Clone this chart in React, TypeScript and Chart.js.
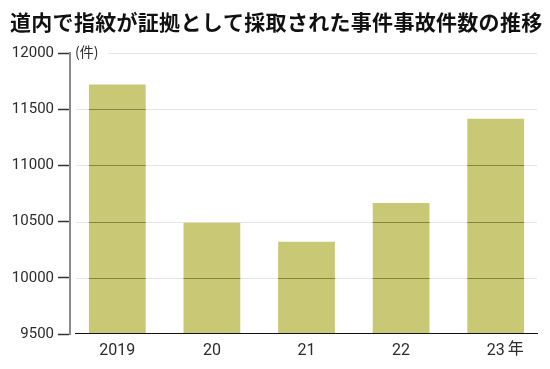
import React, { useEffect, useRef } from "react";
import { Chart, registerables } from "chart.js";

Chart.register(...registerables);

const TITLE = "道内で指紋が証拠として採取された事件事故件数の推移";
const UNIT_Y = "(件)";
const UNIT_X = "年";
const categories = ["2019", "20", "21", "22", "23"];
const values = [11720, 10490, 10320, 10665, 11415];
const yTicks = [9500, 10000, 10500, 11000, 11500, 12000];

const BAR_COLOR = "#c9c874";
const GRID_LIGHT = "#e6e6e6";
const GRID_DARK = "#86853f";
const TEXT = "#2b2b2b";

const decor = {
  id: "decor",
  beforeDatasetsDraw(chart: any) {
    const { ctx, scales } = chart;
    const y = scales.y;
    ctx.save();
    ctx.strokeStyle = GRID_LIGHT;
    ctx.lineWidth = 1;
    yTicks.forEach((v) => {
      if (v === yTicks[0]) return;
      const py = Math.round(y.getPixelForValue(v)) + 0.5;
      const x0 = v === yTicks[yTicks.length - 1] ? 108 : 76;
      ctx.beginPath();
      ctx.moveTo(x0, py);
      ctx.lineTo(537, py);
      ctx.stroke();
    });
    ctx.restore();
  },
  afterDatasetsDraw(chart: any) {
    const { ctx, scales } = chart;
    const y = scales.y;
    const x = scales.x;
    const meta = chart.getDatasetMeta(0);
    ctx.save();
    ctx.strokeStyle = GRID_DARK;
    ctx.lineWidth = 1;
    meta.data.forEach((bar: any, i: number) => {
      const half = bar.width / 2;
      yTicks.forEach((v) => {
        if (v === yTicks[0] || v >= values[i]) return;
        const py = Math.round(y.getPixelForValue(v)) + 0.5;
        ctx.beginPath();
        ctx.moveTo(bar.x - half, py);
        ctx.lineTo(bar.x + half, py);
        ctx.stroke();
      });
    });
    // x axis baseline
    const by = Math.round(y.getPixelForValue(yTicks[0])) - 0.5;
    ctx.strokeStyle = "#111";
    ctx.beginPath();
    ctx.moveTo(75, by);
    ctx.lineTo(538, by);
    ctx.stroke();

    // title
    ctx.fillStyle = "#111";
    ctx.font = "bold 21px 'Noto Sans CJK JP'";
    ctx.textBaseline = "middle";
    ctx.textAlign = "left";
    try {
      (ctx as any).letterSpacing = "0.3px";
    } catch (e) {}
    ctx.fillText(TITLE, 10, 22);
    try {
      (ctx as any).letterSpacing = "0px";
    } catch (e) {}

    // unit labels
    ctx.fillStyle = TEXT;
    ctx.font = "14px 'Noto Sans CJK JP'";
    ctx.fillText(UNIT_Y, 75, y.getPixelForValue(yTicks[yTicks.length - 1]) - 1);
    const lastX = x.getPixelForValue(categories.length - 1);
    ctx.font = "16px 'Noto Sans CJK JP'";
    ctx.fillText(UNIT_X, lastX + 12, 348);
    ctx.restore();
  },
};

export default function App() {
  const ref = useRef<HTMLCanvasElement>(null);
  useEffect(() => {
    document.body.style.margin = "0";
    const chart = new Chart(ref.current!, {
      type: "bar",
      data: {
        labels: categories,
        datasets: [
          {
            data: values,
            backgroundColor: BAR_COLOR,
            barPercentage: 0.6,
            categoryPercentage: 1.0,
          },
        ],
      },
      options: {
        animation: false,
        responsive: false,
        layout: { padding: { top: 53, right: 7, left: 0, bottom: 0 } },
        plugins: { legend: { display: false }, tooltip: { enabled: false } },
        scales: {
          x: {
            grid: { display: false, drawTicks: false },
            border: { display: false },
            ticks: {
              color: TEXT,
              font: { family: "Roboto", size: 16 },
              padding: 7,
            },
            afterFit(s: any) {
              s.height = 35;
            },
          },
          y: {
            min: 9500,
            max: 12000,
            afterBuildTicks(s: any) {
              s.ticks = yTicks.map((v) => ({ value: v }));
            },
            grid: {
              drawOnChartArea: false,
              drawTicks: true,
              tickLength: 12,
              tickColor: "#333",
              tickWidth: 1.5,
            },
            border: { display: true, color: "#8a8a8a", width: 2 },
            ticks: {
              color: TEXT,
              font: { family: "Roboto", size: 15 },
              padding: 4,
              callback: (v: any) => String(v),
            },
            afterFit(s: any) {
              s.width = 70;
            },
          },
        },
      },
      plugins: [decor],
    });
    return () => chart.destroy();
  }, []);
  return <canvas ref={ref} width={550} height={369} style={{ display: "block" }} />;
}
